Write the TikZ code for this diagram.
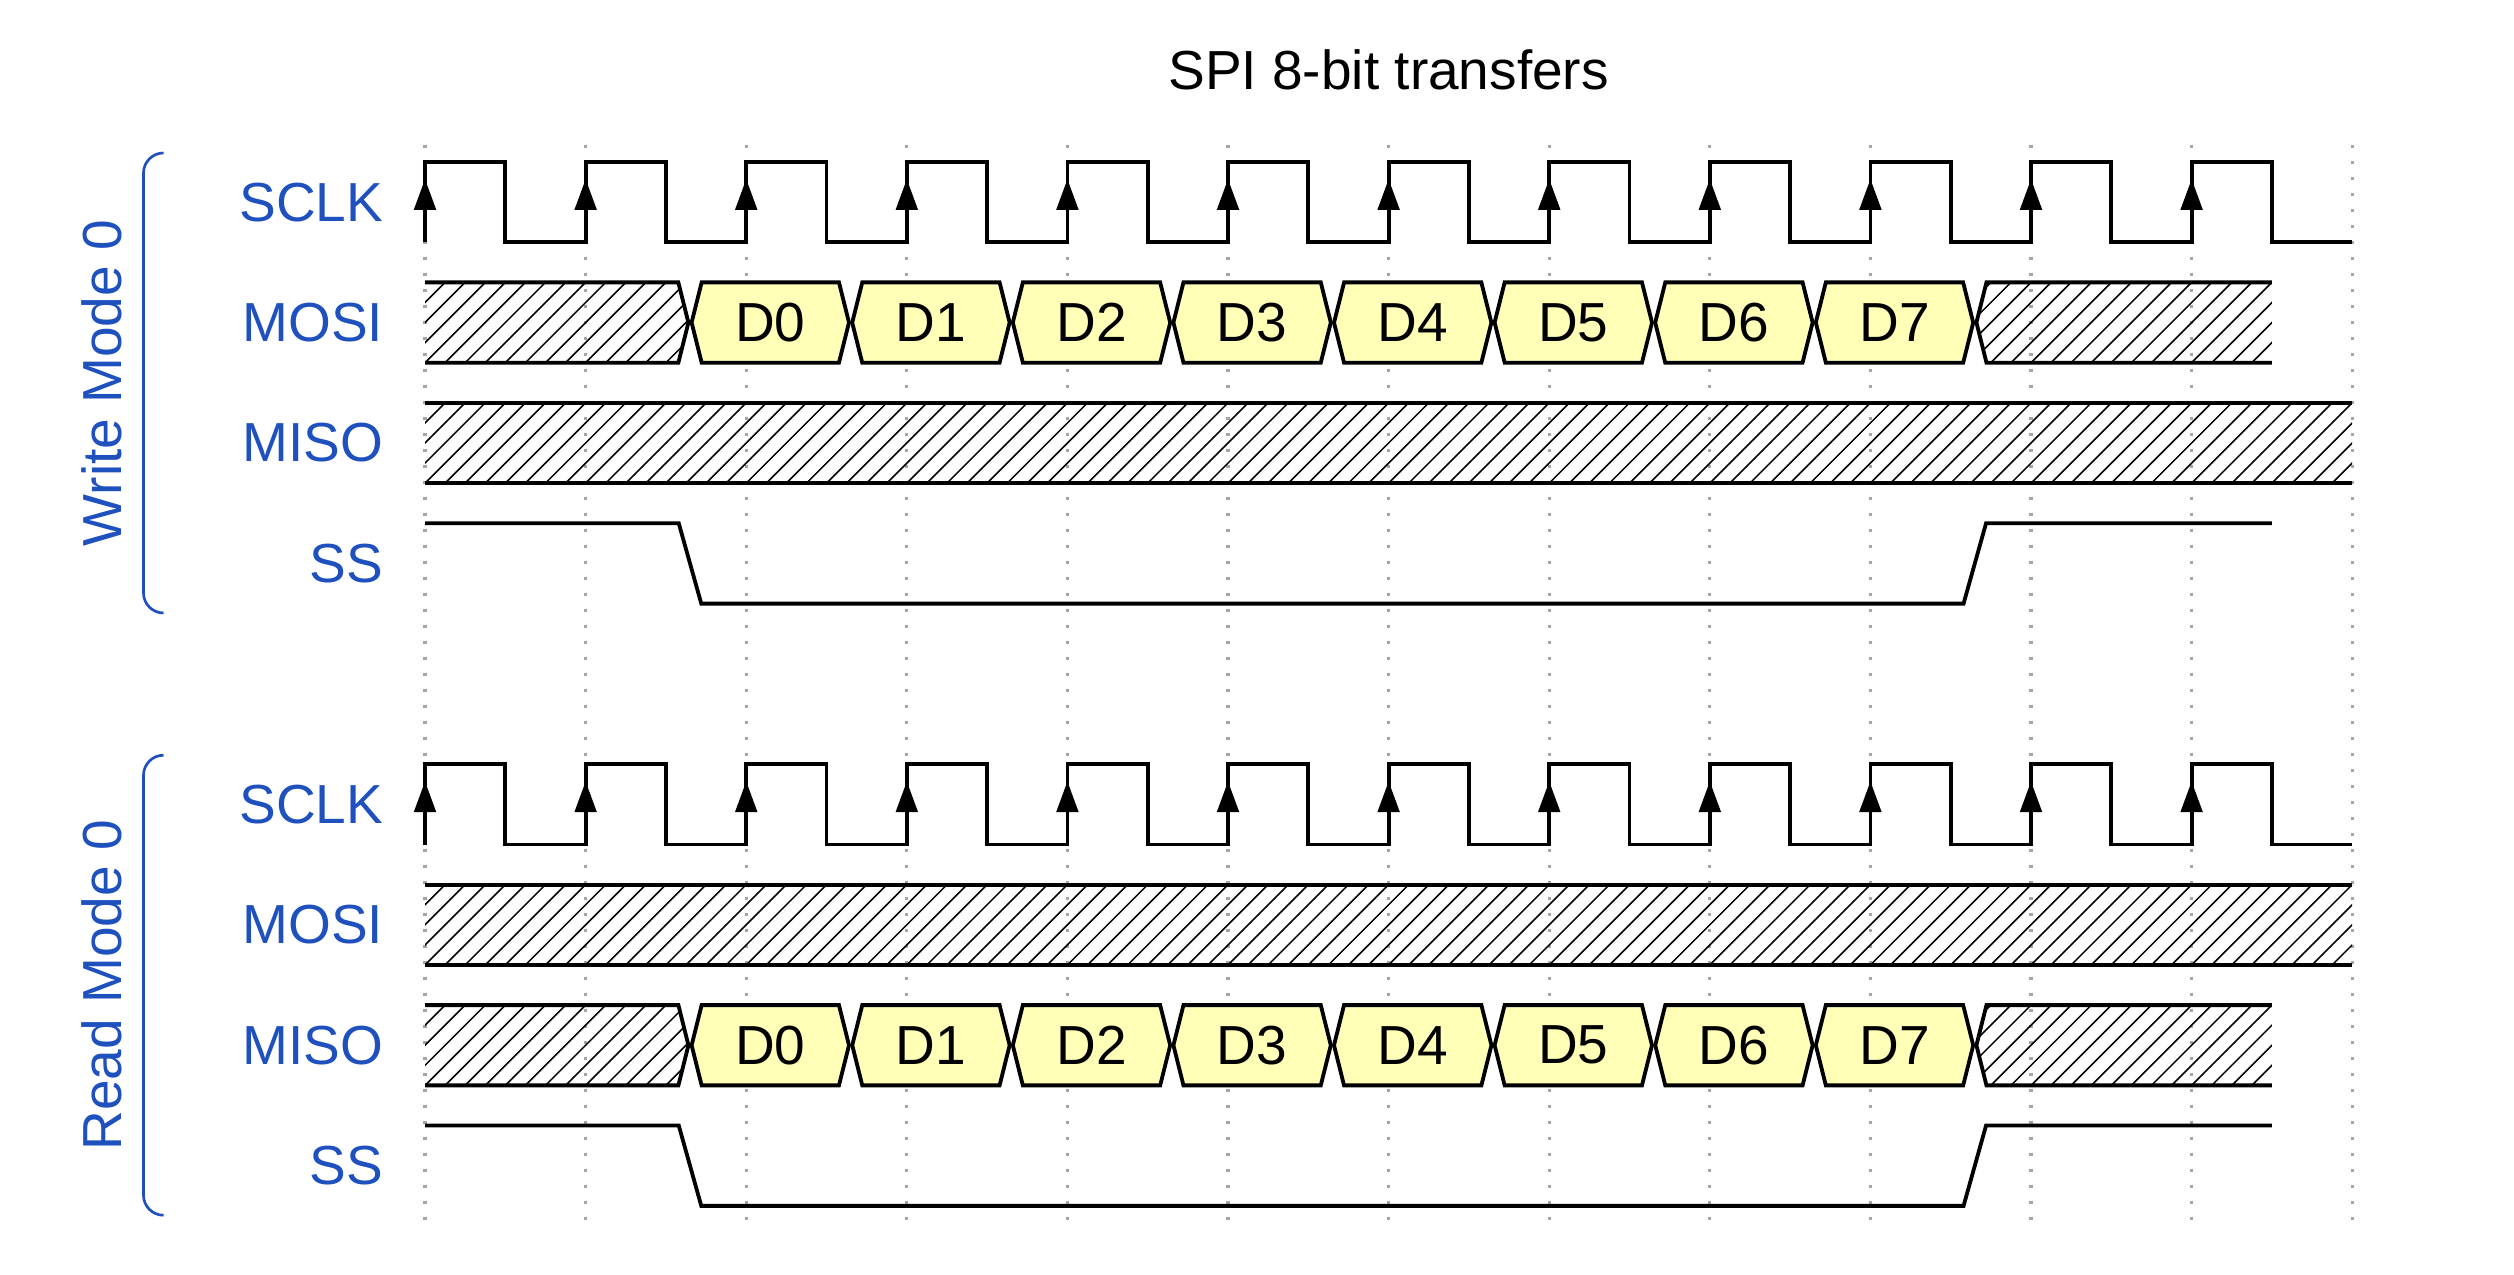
\documentclass[tikz,border=0pt]{standalone}
\usepackage{fontspec}
\setmainfont{Liberation Sans}
\definecolor{lblue}{RGB}{30,80,190}
\definecolor{busy}{RGB}{255,255,183}
\definecolor{gridc}{RGB}{165,165,165}
\begin{document}
\begin{tikzpicture}[
  sig/.style={line width=1.35pt, line join=miter},
  gridl/.style={draw=gridc, line width=1.1pt, dash pattern=on 1.1pt off 4.57pt},
  hatchl/.style={line width=0.55pt},
  bracel/.style={draw=lblue, line width=0.95pt},
  txt/.style={font=\fontsize{19.5}{23}\selectfont, inner sep=0pt},
  lbl/.style={txt, text=lblue, anchor=east},
  model/.style={txt, text=lblue, rotate=90, anchor=base},
  dl/.style={txt, anchor=center},
  ttl/.style={txt, anchor=base}
]
\def\xo{5.293}
\useasboundingbox (0,0) rectangle (31.308,-15.866);
% grid
\foreach \k in {0,...,12}
  \draw[gridl] ({\xo+2*\k},-1.8) -- ({\xo+2*\k},-15.22);
% title
\node[ttl] (title) at (17.293,-1.12) {SPI 8-bit transfers};

\foreach \blk/\off/\mode/\drow/\hrow in {w/0/Write Mode 0/1/2, r/7.5/Read Mode 0/2/1} {
  \pgfmathsetmacro{\ya}{-(2.017+\off)}
  % labels
  \foreach \r/\t in {0/SCLK,1/MOSI,2/MISO,3/SS}
    \node[lbl] (\blk-\t) at (4.78,{\ya-1.5*\r-0.5}) {\t};
  % brace and mode label
  \draw[bracel, rounded corners=0.25cm] (2.037,{\ya+0.112}) -- (1.787,{\ya+0.112}) -- (1.787,{\ya-5.617}) -- (2.037,{\ya-5.617});
  \node[model] (\blk-mode) at (1.507,{\ya-2.753}) {\mode};
  % clock
  \draw[sig] (\xo,{\ya-1}) \foreach \k in {0,...,11} { -- ++(0,1) -- ++(1,0) -- ++(0,-1) -- ++(1,0) };
  \foreach \k in {0,...,11}
    \fill ({\xo+2*\k},{\ya-0.216}) -- ++(-0.14,-0.38) -- ++(0.28,0) -- cycle;
  % fully hatched row
  \pgfmathsetmacro{\yh}{\ya-1.5*\hrow}
  \begin{scope}
    \clip (\xo,{\yh}) rectangle (29.293,{\yh-1});
    \foreach \h in {0,...,101}
      \draw[hatchl] ({\xo-1+0.25*\h},{\yh-1}) -- ++(1,1);
  \end{scope}
  \draw[sig] (\xo,{\yh}) -- (29.293,{\yh});
  \draw[sig] (\xo,{\yh-1}) -- (29.293,{\yh-1});
  % data row
  \pgfmathsetmacro{\yd}{\ya-1.5*\drow}
  \pgfmathsetmacro{\ym}{\yd-0.5}
  \pgfmathsetmacro{\ye}{\yd-1}
  \begin{scope}
    \clip (\xo,\yd) -- (8.448,\yd) -- (8.573,\ym) -- (8.448,\ye) -- (\xo,\ye) -- cycle;
    \foreach \h in {0,...,19}
      \draw[hatchl] ({\xo-1+0.25*\h},{\ye}) -- ++(1,1);
  \end{scope}
  \draw[sig] (\xo,\yd) -- (8.448,\yd) -- (8.573,\ym) -- (8.448,\ye) -- (\xo,\ye);
  \begin{scope}
    \clip (28.293,\yd) -- (24.738,\yd) -- (24.613,\ym) -- (24.738,\ye) -- (28.293,\ye) -- cycle;
    \foreach \h in {76,...,97}
      \draw[hatchl] ({\xo-1+0.25*\h},{\ye}) -- ++(1,1);
  \end{scope}
  \draw[sig] (28.293,\yd) -- (24.738,\yd) -- (24.613,\ym) -- (24.738,\ye) -- (28.293,\ye);
  \foreach \k in {1,...,8} {
    \pgfmathsetmacro{\pa}{\xo+2*\k+1.32}
    \pgfmathsetmacro{\pb}{\pa+1.96}
    \pgfmathtruncatemacro{\n}{\k-1}
    \draw[sig, fill=busy] (\pa,\ym) -- ({\pa+0.125},\yd) -- ({\pb-0.125},\yd) -- (\pb,\ym) -- ({\pb-0.125},\ye) -- ({\pa+0.125},\ye) -- cycle;
    \node[dl] (\blk-d\n) at ({(\pa+\pb)/2},\ym) {D\n};
  }
  % slave select
  \pgfmathsetmacro{\ys}{\ya-4.5}
  \draw[sig] (\xo,\ys) -- (8.453,\ys) -- (8.733,{\ys-1}) -- (24.453,{\ys-1}) -- (24.733,\ys) -- (28.293,\ys);
}
\end{tikzpicture}
\end{document}
